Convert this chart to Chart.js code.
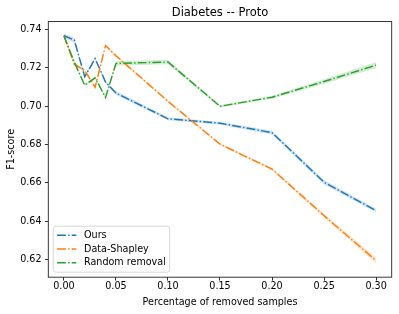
<!DOCTYPE html>
<html>
<head>
<meta charset="utf-8">
<script src="https://cdn.jsdelivr.net/npm/chart.js@4/dist/chart.umd.min.js"></script>
<style>
  html, body { margin: 0; padding: 0; background: #fff; }
  canvas { display: block; }
</style>
</head>
<body>
<canvas id="chart" width="399" height="314"></canvas>
<script>
// values
const removed = [0, 0.01, 0.02, 0.03, 0.04, 0.05, 0.1, 0.15, 0.2, 0.25, 0.3];
const ours = [0.7366, 0.7343, 0.7153, 0.7247, 0.7125, 0.7068, 0.6934, 0.6911, 0.6862, 0.6604, 0.6456];
const oursErr = [0.0012, 0.0012, 0.0008, 0.0008, 0.0008, 0.001, 0.0008, 0.0008, 0.001, 0.0012, 0.001];
const shapley = [0.7366, 0.7218, 0.7185, 0.7098, 0.7315, 0.7262, 0.7025, 0.6802, 0.6672, 0.643, 0.6196];
const shapleyErr = [0.001, 0.001, 0.0008, 0.0008, 0.0008, 0.0007, 0.0006, 0.0006, 0.0007, 0.001, 0.0015];
const randomRm = [0.7366, 0.7228, 0.7109, 0.7147, 0.7045, 0.7222, 0.7229, 0.6999, 0.7046, 0.7128, 0.7213];
const randomErr = [0.001, 0.0008, 0.0007, 0.0007, 0.0007, 0.0012, 0.0012, 0.0006, 0.0008, 0.0012, 0.0016];

const xTicks = [0, 0.05, 0.1, 0.15, 0.2, 0.25, 0.3];
const yTicks = [0.62, 0.64, 0.66, 0.68, 0.7, 0.72, 0.74];

const FONT = "DejaVu Sans";
const dash = [8.8, 2.2, 1.4, 2.2];

function pts(vals, off, sign) {
  return removed.map((x, i) => ({ x: x, y: vals[i] + (off ? sign * off[i] : 0) }));
}

function lineSet(label, vals, color, order) {
  return {
    label: label,
    data: pts(vals),
    borderColor: color,
    borderWidth: 1.45,
    borderDash: dash,
    pointRadius: 0,
    tension: 0,
    fill: false,
    order: order
  };
}

function bandSets(vals, err, fillColor) {
  return [
    { data: pts(vals, err, -1), borderWidth: 0, pointRadius: 0, fill: false, order: 10 },
    { data: pts(vals, err, 1), borderWidth: 0, pointRadius: 0, fill: "-1", backgroundColor: fillColor, order: 10 }
  ];
}

const datasets = [
  lineSet("Ours", ours, "#1f77b4", 3),
  lineSet("Data-Shapley", shapley, "#ff7f0e", 2),
  lineSet("Random removal", randomRm, "#2ca02c", 1),
  ...bandSets(ours, oursErr, "rgba(31,119,180,0.2)"),
  ...bandSets(shapley, shapleyErr, "rgba(255,127,14,0.2)"),
  ...bandSets(randomRm, randomErr, "rgba(44,160,44,0.2)")
];

// black frame around the axes, like matplotlib spines
const framePlugin = {
  id: "frame",
  afterDatasetsDraw(chart) {
    const a = chart.chartArea;
    const ctx = chart.ctx;
    ctx.save();
    ctx.strokeStyle = "#222";
    ctx.lineWidth = 0.9;
    ctx.strokeRect(a.left, a.top, a.right - a.left, a.bottom - a.top);
    ctx.restore();
  }
};

// legend box in the lower left corner of the axes
const legendPlugin = {
  id: "boxLegend",
  afterDraw(chart) {
    const ctx = chart.ctx;
    const a = chart.chartArea;
    const items = chart.data.datasets.slice(0, 3);
    ctx.save();
    ctx.font = "9.6px " + FONT;
    const textW = Math.max(...items.map(d => ctx.measureText(d.label).width));
    const pad = 3.8, handle = 19.2, gap = 7.7, rowH = 13.8;
    const x0 = a.left + 5, y1 = a.bottom - 5;
    const w = pad + handle + gap + textW + pad;
    const h = pad * 2 + rowH * items.length - 3;
    const y0 = y1 - h;
    ctx.beginPath();
    ctx.roundRect(x0, y0, w, h, 2.5);
    ctx.fillStyle = "rgba(255,255,255,0.8)";
    ctx.fill();
    ctx.strokeStyle = "#cccccc";
    ctx.lineWidth = 0.8;
    ctx.stroke();
    items.forEach((d, i) => {
      const cy = y0 + 9 + rowH * i;
      ctx.beginPath();
      ctx.setLineDash(dash);
      ctx.strokeStyle = d.borderColor;
      ctx.lineWidth = 1.45;
      ctx.moveTo(x0 + pad, cy);
      ctx.lineTo(x0 + pad + handle, cy);
      ctx.stroke();
      ctx.setLineDash([]);
      ctx.fillStyle = "#000";
      ctx.textBaseline = "middle";
      ctx.textAlign = "left";
      ctx.fillText(d.label, x0 + pad + handle + gap, cy);
    });
    ctx.restore();
  }
};

const tickFont = { family: FONT, size: 9.6 };

new Chart(document.getElementById("chart"), {
  type: "line",
  data: { datasets: datasets },
  options: {
    responsive: false,
    devicePixelRatio: 1,
    animation: false,
    layout: { padding: { left: 0, right: 7.3, top: 0, bottom: 0 } },
    plugins: {
      legend: { display: false },
      tooltip: { enabled: false },
      title: {
        display: true,
        text: "Diabetes -- Proto",
        fullSize: false,
        color: "#000",
        font: { family: FONT, size: 11.5, weight: "normal" },
        padding: { top: 6.1, bottom: 1.6 }
      }
    },
    scales: {
      x: {
        type: "linear",
        min: -0.015,
        max: 0.315,
        afterFit(scale) { scale.height = 36.8; },
        afterBuildTicks(scale) { scale.ticks = xTicks.map(v => ({ value: v })); },
        ticks: {
          color: "#000",
          font: tickFont,
          padding: 0.5,
          maxRotation: 0,
          callback: v => v.toFixed(2)
        },
        grid: { drawOnChartArea: false, drawTicks: true, tickLength: 3.4, tickColor: "#000", tickWidth: 0.8 },
        border: { display: false },
        title: {
          display: true,
          text: "Percentage of removed samples",
          color: "#000",
          font: tickFont,
          padding: { top: 0, bottom: 5.9 }
        }
      },
      y: {
        type: "linear",
        min: 0.611,
        max: 0.744,
        afterFit(scale) { scale.width = 48.3; },
        afterBuildTicks(scale) { scale.ticks = yTicks.map(v => ({ value: v })); },
        ticks: {
          color: "#000",
          font: tickFont,
          padding: 3.4,
          callback: v => v.toFixed(2)
        },
        grid: { drawOnChartArea: false, drawTicks: true, tickLength: 3.4, tickColor: "#000", tickWidth: 0.8 },
        border: { display: false },
        title: {
          display: true,
          text: "F1-score",
          color: "#000",
          font: tickFont,
          padding: { top: 5.7, bottom: 0 }
        }
      }
    }
  },
  plugins: [framePlugin, legendPlugin]
});
</script>
</body>
</html>
